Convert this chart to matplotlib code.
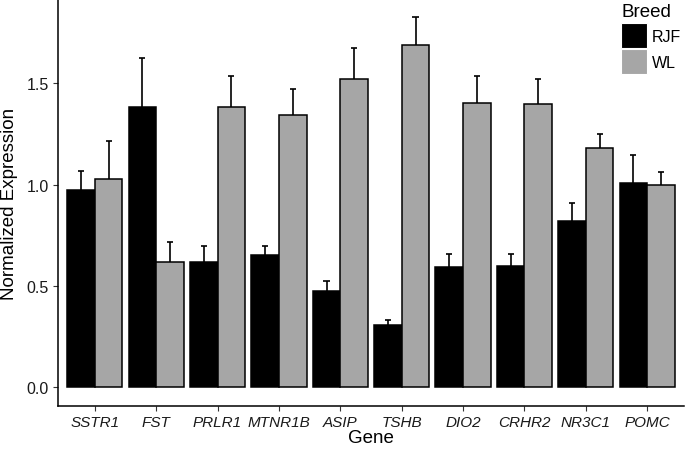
import numpy as np
import matplotlib
matplotlib.use("Agg")
import matplotlib.pyplot as plt
from matplotlib.patches import Patch

plt.rcParams['font.family'] = ['Liberation Sans', 'DejaVu Sans']

# values
genes = ["SSTR1", "FST", "PRLR1", "MTNR1B", "ASIP", "TSHB", "DIO2", "CRHR2", "NR3C1", "POMC"]
rjf_mean = [0.973, 1.384, 0.617, 0.653, 0.475, 0.309, 0.595, 0.598, 0.819, 1.008]
rjf_upper = [1.067, 1.625, 0.700, 0.697, 0.524, 0.333, 0.659, 0.659, 0.911, 1.147]
wl_mean = [1.026, 0.617, 1.383, 1.345, 1.522, 1.687, 1.404, 1.398, 1.179, 0.997]
wl_upper = [1.214, 0.718, 1.534, 1.473, 1.672, 1.825, 1.537, 1.519, 1.248, 1.064]

rjf_color = "#000000"
wl_color = "#A6A6A6"

fig = plt.figure(figsize=(6.85, 4.52), dpi=100)
ax = fig.add_axes([0.0847, 0.0996, 0.9139, 0.9004])

x = np.arange(len(genes))
w = 0.45

ax.bar(x - w / 2, rjf_mean, width=w, color=rjf_color, edgecolor="black", linewidth=1.1, zorder=2)
ax.bar(x + w / 2, wl_mean, width=w, color=wl_color, edgecolor="black", linewidth=1.1, zorder=2)

# upper-only error bars
cap = 0.05
for xs, m, u in [(x - w / 2, rjf_mean, rjf_upper), (x + w / 2, wl_mean, wl_upper)]:
    ax.vlines(xs, m, u, color="black", linewidth=1.2, zorder=1)
    ax.hlines(u, xs - cap, xs + cap, color="black", linewidth=1.2, zorder=1)

ax.set_xlim(-0.6, len(genes) - 0.4)
ax.set_ylim(-0.0913, 1.916)
ax.set_xticks(x)
ax.set_xticklabels(genes, fontstyle="italic", fontsize=11, color="#1a1a1a")
ax.set_yticks([0.0, 0.5, 1.0, 1.5])
ax.set_yticklabels(["0.0", "0.5", "1.0", "1.5"], fontsize=11.5, color="#1a1a1a")
ax.tick_params(axis="both", length=3.5, width=0.8, color="#333333", pad=3)

for s in ["top", "right"]:
    ax.spines[s].set_visible(False)
for s in ["left", "bottom"]:
    ax.spines[s].set_linewidth(1.1)
    ax.spines[s].set_color("black")

ax.set_xlabel("Gene", fontsize=13.5, labelpad=0)
ax.set_ylabel("Normalized Expression", fontsize=13.5, labelpad=6)

handles = [Patch(facecolor=rjf_color, edgecolor="white", linewidth=0.8),
           Patch(facecolor=wl_color, edgecolor="white", linewidth=0.8)]
leg = ax.legend(handles, ["RJF", "WL"], title="Breed", loc="upper right",
                bbox_to_anchor=(1.01, 1.014), frameon=False, fontsize=11.5,
                title_fontsize=13.5, handlelength=1.65, handleheight=2.1,
                handletextpad=0.25, labelspacing=0.02, borderaxespad=0.2)
leg._legend_box.align = "left"
leg._legend_box.sep = 2

fig.savefig("out.png", dpi=100)
